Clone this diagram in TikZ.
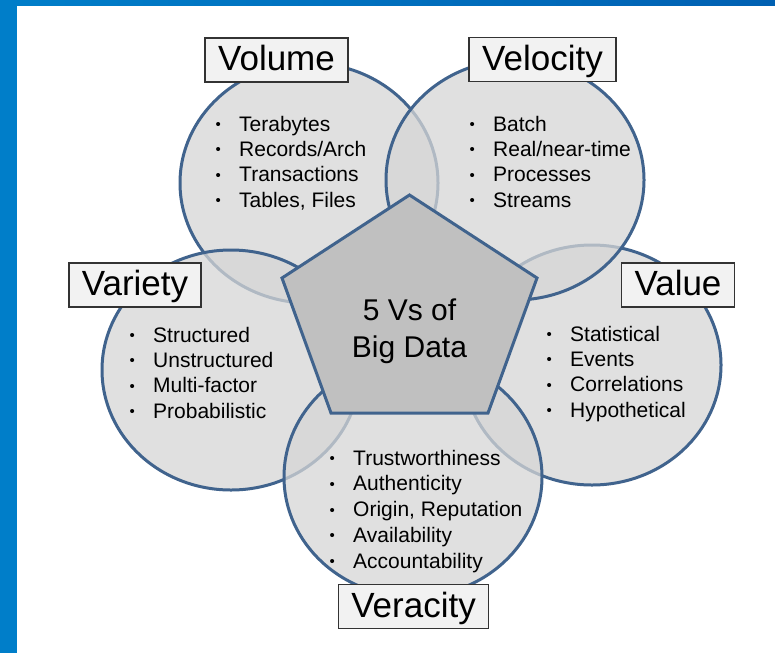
\documentclass[tikz,border=0pt]{standalone}
\usepackage{fontspec}
\setmainfont{Liberation Sans}
\usetikzlibrary{shapes.geometric}

\definecolor{vblue}{RGB}{64,99,141}
\definecolor{vfill}{RGB}{214,214,214}
\definecolor{pentfill}{RGB}{192,192,192}
\definecolor{labelfill}{RGB}{242,242,242}
\definecolor{frameblue}{RGB}{0,126,201}
\definecolor{framedark}{RGB}{0,96,178}
\newcommand{\vitem}[1]{\makebox[25pt][l]{\hspace{1.5pt}\raisebox{1.5pt}{\fontsize{15}{15}\selectfont\textbullet}}#1}

\begin{document}
\begin{tikzpicture}[x=1pt, y=-1pt,
    vcircle/.style={ellipse, draw=vblue, line width=3pt, fill=vfill, fill opacity=0.75,
                    minimum width=258pt, minimum height=240pt, inner sep=0pt},
    vlist/.style={anchor=base west, align=left, inner sep=0pt, font=\fontsize{21}{25.3}\selectfont},
    vlabel/.style={draw=black!80, line width=1.4pt, fill=labelfill, inner xsep=13pt, inner ysep=0pt,
                   minimum height=44pt, text height=26pt, text depth=5pt, font=\fontsize{35}{40}\selectfont}]
      \useasboundingbox (0,0) rectangle (775,653);

      % Rahmen
      \fill[white] (0,0) rectangle (775,653);
      \fill[frameblue] (0,0) rectangle (17,653);
      \shade[left color=frameblue, right color=framedark] (0,0) rectangle (775,5);

      % Kreise (unten nach oben)
      \node[vcircle] (volume) at (309,183) {};
      \node[vcircle] (value) at (592,365) {};
      \node[vcircle] (velocity) at (515,180) {};
      \node[vcircle] (variety) at (231,370) {};
      \node[vcircle] (veracity) at (413,477) {};

      % Fuenfeck in der Mitte
      \draw[vblue, line width=3pt, fill=pentfill, line join=miter]
            (409.5,195) -- (537,278) -- (488,413) -- (331,413) -- (282,278) -- cycle;
      \node[align=center, anchor=base, font=\fontsize{30}{37}\selectfont] (core) at (409.5,357) {5 Vs of\\Big Data};

      % Stichpunkte (Anker = letzte Zeile)
      \node[vlist] (volumelist) at (214,207) {\vitem{Terabytes}\\\vitem{Records/Arch}\\\vitem{Transactions}\\\vitem{Tables, Files}};
      \node[vlist] (velocitylist) at (468,207) {\vitem{Batch}\\\vitem{Real/near-time}\\\vitem{Processes}\\\vitem{Streams}};
      \node[vlist] (varietylist) at (128,418) {\vitem{Structured}\\\vitem{Unstructured}\\\vitem{Multi-factor}\\\vitem{Probabilistic}};
      \node[vlist] (valuelist) at (545,417) {\vitem{Statistical}\\\vitem{Events}\\\vitem{Correlations}\\\vitem{Hypothetical}};
      \node[vlist, font=\fontsize{21}{25.75}\selectfont] (veracitylist) at (328,568) {\vitem{Trustworthiness}\\\vitem{Authenticity}\\\vitem{Origin, Reputation}\\\vitem{Availability}\\\vitem{Accountability}};

      % Beschriftungen
      \node[vlabel] (volumelabel) at (276.5,60) {Volume};
      \node[vlabel] (velocitylabel) at (542.5,59.5) {Velocity};
      \node[vlabel] (varietylabel) at (135,285) {Variety};
      \node[vlabel] (valuelabel) at (678,285) {Value};
      \node[vlabel] (veracitylabel) at (413.5,606.5) {Veracity};
\end{tikzpicture}
\end{document}
